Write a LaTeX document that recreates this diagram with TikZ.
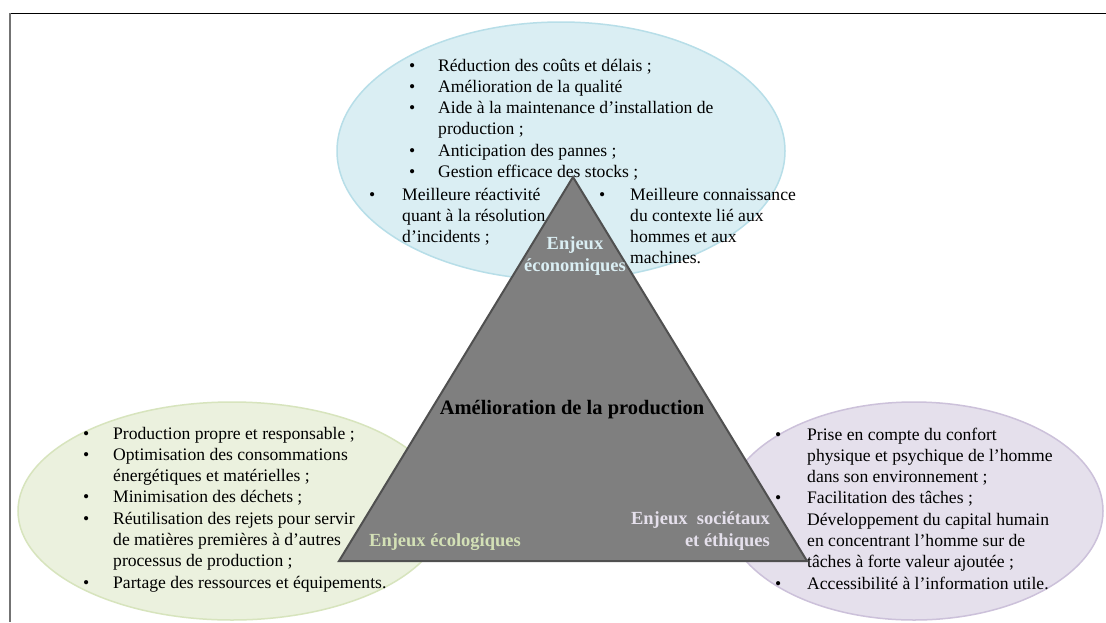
\documentclass[tikz,border=0pt]{standalone}
\usepackage{fontspec}
\setmainfont{Liberation Serif}
\usetikzlibrary{shapes.geometric}
\definecolor{blueF}{HTML}{DAEEF3}
\definecolor{blueD}{HTML}{B7DEE8}
\definecolor{greenF}{HTML}{EBF1DE}
\definecolor{greenD}{HTML}{D7E4BD}
\definecolor{greenT}{HTML}{D3E0B6}
\definecolor{purpF}{HTML}{E5E0EC}
\definecolor{purpD}{HTML}{CCC1DA}
\definecolor{triF}{HTML}{7F7F7F}
\definecolor{triD}{HTML}{505050}
\newcommand\bul[1]{\makebox[#1][l]{\textbullet}}
\newcommand\nob[1]{\makebox[#1][l]{}}
\begin{document}
\begin{tikzpicture}[x=1pt,y=-1pt,
  bubble/.style={ellipse, line width=1.5pt, inner sep=0pt},
  listtext/.style={anchor=base west, inner sep=0pt, font=\fontsize{17.6}{21.3}\selectfont},
  lab/.style={inner sep=0pt, font=\bfseries\fontsize{18.5}{21.3}\selectfont}]
\useasboundingbox (0,0) rectangle (1106,622);
\fill[white] (0,0) rectangle (1106,622);
\draw[line width=1pt] (10,13) -- (1106,13);
\draw[gray!90!black, line width=2pt] (10,13) -- (10,622);

% ellipses
\node[bubble, draw=blueD, fill=blueF, minimum width=448pt, minimum height=258pt] (ecoell) at (561,151) {};
\node[bubble, draw=greenD, fill=greenF, minimum width=428pt, minimum height=218pt] (ecolell) at (232,511) {};
\node[bubble, draw=purpD, fill=purpF, minimum width=378pt, minimum height=218pt] (socell) at (914,511) {};

% top list
\node[listtext] (toplist) at (409,71) {\begin{tabular}[t]{@{}l@{}}
\bul{29pt}Réduction des coûts et délais ;\\
\bul{29pt}Amélioration de la qualité\\
\bul{29pt}Aide à la maintenance d’installation de\\
\nob{29pt}production ;\\
\bul{29pt}Anticipation des pannes ;\\
\bul{29pt}Gestion efficace des stocks ;
\end{tabular}};
\node[listtext] (topleft) at (369,200) {\begin{tabular}[t]{@{}l@{}}
\bul{33pt}Meilleure réactivité\\
\nob{33pt}quant à la résolution\\
\nob{33pt}d’incidents ;
\end{tabular}};
\node[listtext] (topright) at (599,200) {\begin{tabular}[t]{@{}l@{}}
\bul{31pt}Meilleure connaissance\\
\nob{31pt}du contexte lié aux\\
\nob{31pt}hommes et aux\\
\nob{31pt}machines.
\end{tabular}};

% left list
\node[listtext] (leftlist) at (83,439) {\begin{tabular}[t]{@{}l@{}}
\bul{30pt}Production propre et responsable ;\\
\bul{30pt}Optimisation des consommations\\
\nob{30pt}énergétiques et matérielles ;\\
\bul{30pt}Minimisation des déchets ;\\
\bul{30pt}Réutilisation des rejets pour servir\\
\nob{30pt}de matières premières à d’autres\\
\nob{30pt}processus de production ;\\
\bul{30pt}Partage des ressources et équipements.
\end{tabular}};

% right list
\node[listtext] (rightlist) at (775,440) {\begin{tabular}[t]{@{}l@{}}
\bul{32pt}Prise en compte du confort\\
\nob{32pt}physique et psychique de l’homme\\
\nob{32pt}dans son environnement ;\\
\bul{32pt}Facilitation des tâches ;\\
\nob{32pt}Développement du capital humain\\
\nob{32pt}en concentrant l’homme sur de\\
\nob{32pt}tâches à forte valeur ajoutée ;\\
\bul{32pt}Accessibilité à l’information utile.
\end{tabular}};

% triangle
\coordinate (apex) at (573,177);
\coordinate (bl) at (339,561);
\coordinate (br) at (807,561);
\draw[fill=triF, draw=triD, line width=2pt, line join=miter] (apex) -- (bl) -- (br) -- cycle;

% labels
\node[lab, align=center, text=blueF] (labeco) at (575,256) {Enjeux\\économiques};
\node[lab, text=greenT] (labecol) at (445,542) {Enjeux écologiques};
\node[lab, align=right, text=purpF, anchor=east] (labsoc) at (770,531) {Enjeux\ \ sociétaux\\et éthiques};
\node[inner sep=0pt, font=\bfseries\fontsize{20.5}{24}\selectfont] (title) at (572,410) {Amélioration de la production};
\end{tikzpicture}
\end{document}
